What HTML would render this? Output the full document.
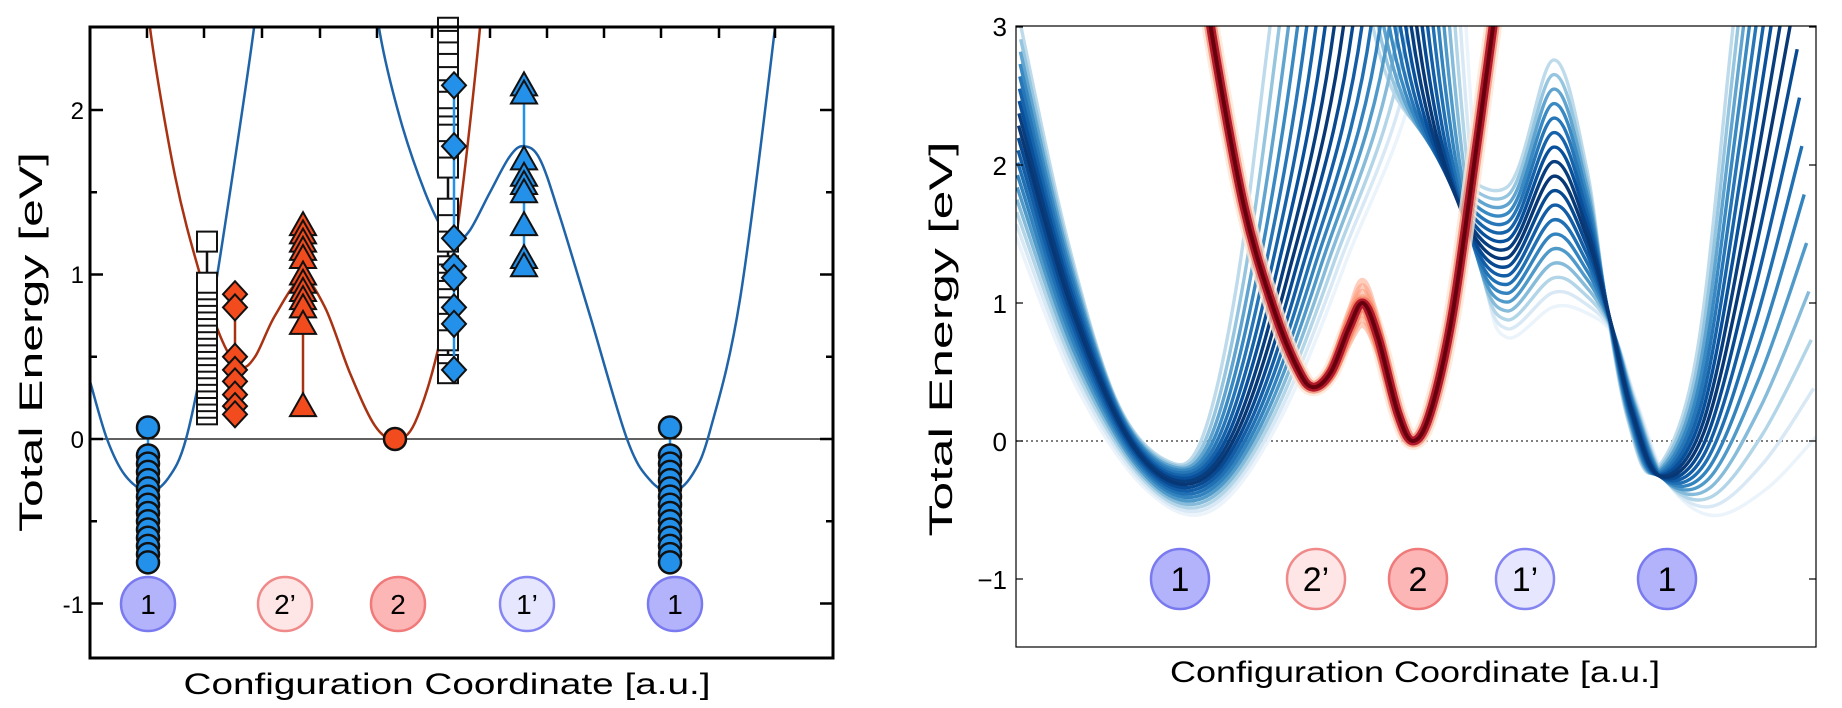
<!DOCTYPE html>
<html><head><meta charset="utf-8"><style>
html,body{margin:0;padding:0;background:#fff;}
svg{display:block;font-family:"Liberation Sans",sans-serif;}
</style></head><body>
<svg id="s" width="1842" height="708" viewBox="0 0 1842 708" xmlns="http://www.w3.org/2000/svg">
<defs>
<clipPath id="cl"><rect x="90" y="27" width="743" height="631"/></clipPath>
<clipPath id="cr"><rect x="1016" y="26" width="800" height="621"/></clipPath>
</defs>
<g id="L"></g>
<g id="R"></g>
<rect x="90" y="27" width="743" height="631" fill="none" stroke="#000" stroke-width="3"/>
<g font-size="24" text-anchor="end" fill="#000">
<text x="84" y="119">2</text><text x="84" y="283">1</text><text x="84" y="448">0</text><text x="84" y="613">-1</text>
</g>
<text transform="translate(42,342) rotate(-90)" font-size="32" text-anchor="middle" textLength="380" lengthAdjust="spacingAndGlyphs">Total Energy [eV]</text>
<text x="447" y="694" font-size="30" text-anchor="middle" textLength="527" lengthAdjust="spacingAndGlyphs">Configuration Coordinate [a.u.]</text>
<rect x="1016" y="26" width="800" height="621" fill="none" stroke="#000" stroke-width="1.2"/>
<g font-size="26" text-anchor="end" fill="#000">
<text x="1007" y="36">3</text><text x="1007" y="175">2</text><text x="1007" y="313">1</text><text x="1007" y="451">0</text><text x="1007" y="589">−1</text>
</g>
<text transform="translate(952,339) rotate(-90)" font-size="32" text-anchor="middle" textLength="395" lengthAdjust="spacingAndGlyphs">Total Energy [eV]</text>
<text x="1415" y="682" font-size="30" text-anchor="middle" textLength="490" lengthAdjust="spacingAndGlyphs">Configuration Coordinate [a.u.]</text>
</svg>
<script>
var NS="http://www.w3.org/2000/svg";
function el(p,t,a){var e=document.createElementNS(NS,t);for(var k in a)e.setAttribute(k,a[k]);p.appendChild(e);return e;}
function cr(pts){var d="M"+pts[0][0].toFixed(1)+","+pts[0][1].toFixed(1);
for(var i=0;i<pts.length-1;i++){var p0=pts[Math.max(0,i-1)],p1=pts[i],p2=pts[i+1],p3=pts[Math.min(pts.length-1,i+2)];
var c1=[p1[0]+(p2[0]-p0[0])/6,p1[1]+(p2[1]-p0[1])/6],c2=[p2[0]-(p3[0]-p1[0])/6,p2[1]-(p3[1]-p1[1])/6];
d+="C"+c1[0].toFixed(1)+","+c1[1].toFixed(1)+" "+c2[0].toFixed(1)+","+c2[1].toFixed(1)+" "+p2[0].toFixed(1)+","+p2[1].toFixed(1);}
return d;}
// ---------- LEFT ----------
var L=document.getElementById("L");
function ly(E){return 439-E*164.5;}
function LP(a){return a.map(function(p){return [p[0],ly(p[1])];});}
var cg=el(L,"g",{"clip-path":"url(#cl)"});
el(cg,"line",{x1:90,y1:439,x2:833,y2:439,stroke:"#000","stroke-width":1.3});
var b1=[[85,0.45],[90,0.35],[107,0],[125,-0.22],[148,-0.32],[168,-0.24],[186,0],[207,0.62],[230,1.5],[254,2.5],[262,3]];
var b2=[[372,3],[379,2.5],[400,1.95],[425,1.5],[445,1.25],[456,1.2],[470,1.27],[490,1.5],[510,1.72],[524,1.78],[540,1.7],[560,1.35],[590,0.75],[627,0],[650,-0.25],[672,-0.32],[692,-0.22],[710,0.05],[740,0.85],[775,2.5],[782,3]];
var rd=[[145,3],[150,2.5],[175,1.6],[200,1.0],[222,0.6],[240,0.44],[255,0.5],[275,0.75],[302,0.97],[325,0.8],[350,0.4],[375,0.08],[395,0],[415,0.1],[440,0.6],[460,1.4],[480,2.5],[485,3]];
el(cg,"path",{d:cr(LP(rd)),fill:"none",stroke:"#a83212","stroke-width":2.5});
el(cg,"path",{d:cr(LP(b1)),fill:"none",stroke:"#1f63a8","stroke-width":2.5});
el(cg,"path",{d:cr(LP(b2)),fill:"none",stroke:"#1f63a8","stroke-width":2.5});
var tk=el(L,"g",{stroke:"#000","stroke-width":2.5});
[147,204,262,320,377,432,490,547,604,661,719,775].forEach(function(x){el(tk,"line",{x1:x,y1:27,x2:x,y2:38});});
for(var E=-1;E<=2.01;E+=0.5){var maj=Math.abs(E-Math.round(E))<0.01;var len=maj?13:7;var y=ly(E);
el(tk,"line",{x1:90,y1:y,x2:90+len,y2:y});el(tk,"line",{x1:833,y1:y,x2:833-len,y2:y});}
var BLUE="#2391ea",RED="#f24b1d";
function vline(x,a,b,c){el(L,"line",{x1:x,y1:ly(a),x2:x,y2:ly(b),stroke:c,"stroke-width":2.5});}
function circ(x,E,f){el(L,"circle",{cx:x,cy:ly(E),r:11,fill:f,stroke:"#111","stroke-width":2.5});}
function sq(x,E){el(L,"rect",{x:x-10,y:ly(E)-10,width:20,height:20,fill:"#fff",stroke:"#111","stroke-width":2});}
function dia(x,E,f){var y=ly(E);el(L,"polygon",{points:(x)+","+(y-13)+" "+(x+12)+","+y+" "+x+","+(y+13)+" "+(x-12)+","+y,fill:f,stroke:"#111","stroke-width":2});}
function tri(x,E,f){var y=ly(E);el(L,"polygon",{points:(x)+","+(y-13)+" "+(x+13)+","+(y+10)+" "+(x-13)+","+(y+10),fill:f,stroke:"#111","stroke-width":2});}
var cv=[0.07,-0.1,-0.15,-0.2,-0.25,-0.3,-0.35,-0.4,-0.45,-0.5,-0.55,-0.6,-0.65,-0.7,-0.75];
[148,670].forEach(function(x){vline(x,-0.75,0.07,BLUE);cv.forEach(function(e){circ(x,e,BLUE);});});
vline(207,0.15,1.2,"#111");
for(var e=0.15;e<=0.96;e+=0.04)sq(207,e);sq(207,1.2);
vline(235,0.15,0.88,"#a83212");
[0.88,0.8,0.5,0.42,0.35,0.27,0.2,0.15].forEach(function(e){dia(235,e,RED);});
vline(303,0.2,1.3,"#a83212");
[1.3,1.25,1.2,1.15,1.1,1.0,0.95,0.9,0.85,0.8,0.7,0.2].forEach(function(e){tri(303,e,RED);});
circ(395,0,RED);
vline(448,0.4,2.5,"#111");
[2.5,2.42,2.35,2.28,2.2,2.12,2.05,1.95,1.9,1.85,1.75,1.65,1.4,1.3,1.2,1.05,1.0,0.95,0.9,0.85,0.8,0.7,0.6,0.45,0.4].forEach(function(e){sq(448,e);});
vline(454,0.42,2.15,BLUE);
[2.15,1.78,1.22,1.05,0.98,0.8,0.7,0.42].forEach(function(e){dia(454,e,BLUE);});
vline(524,1.05,2.1,BLUE);
[2.15,2.1,1.7,1.6,1.55,1.5,1.3,1.1,1.05].forEach(function(e){tri(524,e,BLUE);});
function lab(g,x,y,r1,r2,f,s,t,fs){el(g,"ellipse",{cx:x,cy:y,rx:r1,ry:r2,fill:f,stroke:s,"stroke-width":2.5});
var tx=el(g,"text",{x:x,y:y+fs*0.36,"font-size":fs,"text-anchor":"middle",fill:"#000"});tx.textContent=t;}
var C1=["#b3b3fb","#7a7af0"],C1p=["#e6e6ff","#8585f2"],C2=["#fcb6b6","#f07a7a"],C2p=["#ffe6e6","#f08a8a"];
[[148,C1,"1"],[285,C2p,"2’"],[398,C2,"2"],[527,C1p,"1’"],[675,C1,"1"]].forEach(function(a){lab(L,a[0],604,27,27,a[1][0],a[1][1],a[2],28);});
// ---------- RIGHT ----------
var R=document.getElementById("R");
function ry(E){return 441-E*138;}
var rg=el(R,"g",{"clip-path":"url(#cr)"});
el(rg,"line",{x1:1016,y1:441,x2:1816,y2:441,stroke:"#333","stroke-width":1.2,"stroke-dasharray":"2,3"});
var A=[[5,3.0],[50,1.5],[100,0.3],[150,-0.14],[185,0],[220,1.1],[254,3.0],[305,6],[357,3.0],[420,2.15],[491,1.84],[537,2.76],[570,2.0],[590,1.0],[612,0.15],[638,-0.22],[680,0.6],[717,3.0],[760,6]];
var B=[[0,1.48],[60,0.4],[130,-0.35],[194,-0.51],[260,0.1],[330,1.3],[410,3.0],[430,6],[450,3.0],[470,1.2],[491,0.75],[537,0.97],[570,0.93],[598,0.76],[620,0.3],[652,-0.3],[697,-0.54],[750,-0.35],[800,0.03]];
var N=18;
var SC=[[247,251,255],[222,235,247],[158,202,225],[66,146,198],[33,113,181],[8,81,156],[8,48,107]];
function blues(d){var f=d*(SC.length-1),i=Math.min(SC.length-2,Math.floor(f)),t=f-i;
return "rgb("+[0,1,2].map(function(k){return Math.round(SC[i][k]+(SC[i+1][k]-SC[i][k])*t);}).join(",")+")";}
var order=[];for(var i=0;i<N;i++)order.push(i);
order.sort(function(a,b){return Math.abs(b/(N-1)-0.45)-Math.abs(a/(N-1)-0.45);});
order.forEach(function(i){var t=i/(N-1);var d=Math.max(0.05,1-Math.abs(t-0.45)/0.6);
var pts=A.map(function(p,k){var q=B[k];return [1016+p[0]+(q[0]-p[0])*t, ry(p[1]+(q[1]-p[1])*t)];});
el(rg,"path",{d:cr(pts),fill:"none",stroke:blues(d),"stroke-width":3.4});});
var RP=[[190,3.3],[197,2.9],[228,1.7],[258,0.95],[282,0.52],[297,0.39],[315,0.5],[333,0.82],[347,1.0],[362,0.75],[382,0.2],[397,0],[414,0.2],[436,0.9],[458,2.0],[477,3.0],[482,3.3]];
function redp(dx,sc,w,c,o){var pts=RP.map(function(p){var bump=(p[0]>282&&p[0]<385)?sc*Math.max(0,1-Math.abs(p[0]-347)/45):0;return [1016+p[0]+dx,ry(p[1]+bump)];});
el(rg,"path",{d:cr(pts),fill:"none",stroke:c,"stroke-width":w,"stroke-opacity":o});}
redp(0,0,18,"#fee6d5",0.8);
for(var k=-4;k<=4;k++)redp(0,k*0.04,6,k==0?"#cb181d":"#fc9272",0.45);
redp(0,0,13,"#ef6548",0.55);
redp(0,0,9,"#b2182b",1);
redp(0,0,4,"#67000d",1);
var rt=el(R,"g",{stroke:"#000","stroke-width":1.2});
[3,2,1,0,-1].forEach(function(E){var y=ry(E);el(rt,"line",{x1:1016,y1:y,x2:1023,y2:y});el(rt,"line",{x1:1816,y1:y,x2:1809,y2:y});});
[[1180,C1,"1"],[1316,C2p,"2’"],[1418,C2,"2"],[1525,C1p,"1’"],[1667,C1,"1"]].forEach(function(a){lab(R,a[0],579,29,30,a[1][0],a[1][1],a[2],34);});
</script>
</body></html>
